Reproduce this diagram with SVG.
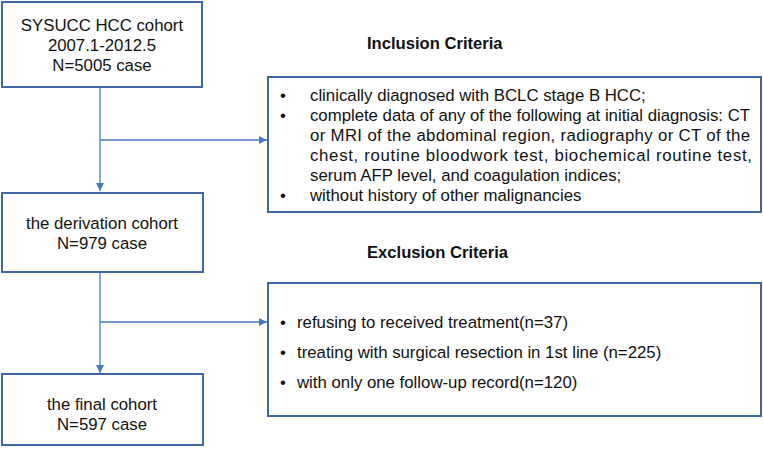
<svg xmlns="http://www.w3.org/2000/svg" width="763" height="455" viewBox="0 0 763 455">
<style>
.box{fill:#fff;stroke:#3F66A8;stroke-width:2}
.t{font-family:"Liberation Sans",Arial,sans-serif;font-size:16.8px;fill:#111}
.c{text-anchor:middle}
.h{font-weight:bold;font-size:16.6px}
.con{stroke:#4A78C6;stroke-width:1.3;fill:none}
</style>
<defs>
<marker id="ah" viewBox="0 0 10 10" refX="10" refY="5" markerWidth="8" markerHeight="8" markerUnits="userSpaceOnUse" orient="auto"><path d="M0,0L10,5L0,10z" fill="#4A78C6"/></marker>
</defs>
<rect width="763" height="455" fill="#fff"/>
<g id="connectors">
<path class="con" d="M100,87V191" marker-end="url(#ah)"/>
<path class="con" d="M100,140H267" marker-end="url(#ah)"/>
<path class="con" d="M100,272V373" marker-end="url(#ah)"/>
<path class="con" d="M100,322H267" marker-end="url(#ah)"/>
</g>
<g id="n1">
<rect class="box" x="2" y="2" width="200" height="85"/>
<text class="t c" x="102" y="31">SYSUCC HCC cohort</text>
<text class="t c" x="102" y="51">2007.1-2012.5</text>
<text class="t c" x="102" y="71">N=5005 case</text>
</g>
<g id="n2">
<rect class="box" x="2" y="193" width="201" height="79"/>
<text class="t c" x="102" y="229">the derivation cohort</text>
<text class="t c" x="102" y="249">N=979 case</text>
</g>
<g id="n3">
<rect class="box" x="2" y="374" width="201" height="71"/>
<text class="t c" x="102" y="410">the final cohort</text>
<text class="t c" x="102" y="430">N=597 case</text>
</g>
<g id="inclusion-title">
<text class="t h" x="367" y="49">Inclusion Criteria</text>
</g>
<g id="inclusion">
<rect class="box" x="268" y="77" width="493" height="135"/>
<g class="t">
<text x="280" y="101">•</text><text x="310" y="101">clinically diagnosed with BCLC stage B HCC;</text>
<text x="280" y="121">•</text><text x="310" y="121" textLength="440" lengthAdjust="spacing">complete data of any of the following at initial diagnosis: CT</text>
<text x="310" y="141" textLength="440" lengthAdjust="spacing">or MRI of the abdominal region, radiography or CT of the</text>
<text x="310" y="161" textLength="442" lengthAdjust="spacing">chest, routine bloodwork test, biochemical routine test,</text>
<text x="310" y="181">serum AFP level, and coagulation indices;</text>
<text x="280" y="201">•</text><text x="310" y="201">without history of other malignancies</text>
</g>
</g>
<g id="exclusion-title">
<text class="t h" x="367" y="258">Exclusion Criteria</text>
</g>
<g id="exclusion">
<rect class="box" x="268" y="283" width="493" height="133"/>
<g class="t">
<text x="280" y="328">•</text><text x="297" y="328">refusing to received treatment(n=37)</text>
<text x="280" y="358">•</text><text x="297" y="358">treating with surgical resection in 1st line (n=225)</text>
<text x="280" y="388">•</text><text x="297" y="388">with only one follow-up record(n=120)</text>
</g>
</g>
</svg>
